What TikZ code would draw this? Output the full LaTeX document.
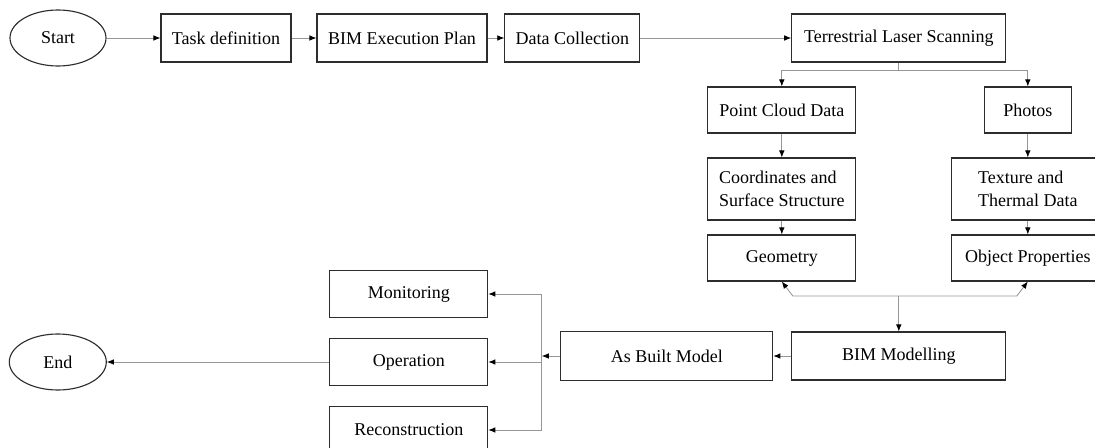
\documentclass[tikz,border=0pt]{standalone}
\usepackage{fontspec}
\setmainfont{Liberation Serif}
\usepackage{tikz}
\usetikzlibrary{arrows.meta,shapes,positioning,calc}
\usepackage{xcolor}
\definecolor{bimborder}{RGB}{45,45,45}
\definecolor{bimline}{RGB}{150,150,150}
\tikzstyle{arrow} = [line width=0.6pt, draw=bimline, -{Latex[length=5pt,width=4pt,color=black]}]
\tikzstyle{connector} = [line width=0.6pt, draw=bimline]
\tikzstyle{process} = [rectangle, minimum height=1.2cm, text centered, draw=bimborder, line width=0.8pt, font=\fontsize{12.8}{16}\selectfont]
\tikzstyle{terminal} = [ellipse, minimum width=2.4cm, minimum height=1.4cm, draw=bimborder, line width=0.8pt, font=\fontsize{12.8}{16}\selectfont]

\begin{document}
\begin{tikzpicture}
% Top row
\node (start) [terminal] {Start};
\useasboundingbox ([xshift=-1.45cm,yshift=0.95cm]start.center) rectangle ++(27.375,-11.175);
\node (task) [process, right of=start, node distance=4.2cm, minimum width=3.25cm] {Task definition};
\node (bep) [process, right of=task, node distance=4.4cm, minimum width=4.25cm] {BIM Execution Plan};
\node (data) [process, right of=bep, node distance=4.26cm, minimum width=3.375cm] {Data Collection};
\node (tls) [process, right of=data, node distance=8.16cm, minimum width=5.35cm] {Terrestrial Laser Scanning};

% Scanning outputs
\node (pcd) [process, below of=tls, node distance=1.8cm, xshift=-2.925cm, minimum width=3.7cm, minimum height=1.15cm] {Point Cloud Data};
\node (photos) [process, below of=tls, node distance=1.8cm, xshift=3.225cm, minimum width=2.175cm, minimum height=1.15cm] {Photos};
\node (coord) [process, below of=pcd, node distance=1.975cm, minimum width=3.7cm, minimum height=1.55cm, align=left] {Coordinates and\\Surface Structure};
\node (texture) [process, below of=photos, node distance=1.975cm, minimum width=3.8cm, minimum height=1.55cm, align=left] {Texture and\\Thermal Data};
\node (geom) [process, below of=coord, node distance=1.725cm, minimum width=3.7cm, minimum height=1.15cm] {Geometry};
\node (objprop) [process, below of=texture, node distance=1.725cm, minimum width=3.8cm, minimum height=1.15cm] {Object Properties};

% Modelling
\node (bimm) [process, below of=tls, node distance=7.95cm, minimum width=5.35cm] {BIM Modelling};
\node (asbuilt) [process, left of=bimm, node distance=5.8cm, minimum width=5.3cm, minimum height=1.225cm] {As Built Model};

% Uses of the model
\node (operation) [process, left of=asbuilt, node distance=6.45cm, yshift=-0.15cm, minimum width=3.95cm, minimum height=1.175cm] {Operation};
\node (monitoring) [process, above of=operation, node distance=1.7cm, minimum width=3.95cm, minimum height=1.175cm] {Monitoring};
\node (recon) [process, below of=operation, node distance=1.7cm, minimum width=3.95cm, minimum height=1.175cm] {Reconstruction};
\node (end) [terminal, left of=operation, node distance=8.775cm, minimum width=2.425cm] {End};

% Main flow
\draw [arrow] (start) -- (task);
\draw [arrow] (task) -- (bep);
\draw [arrow] (bep) -- (data);
\draw [arrow] (data) -- (tls);

% Split below scanning
\node (tsplit) [coordinate, below of=tls, node distance=0.8cm] {};
\draw [connector] (tls) -- (tsplit);
\draw [arrow] (tsplit) -| (pcd);
\draw [arrow] (tsplit) -| (photos);
\draw [arrow] (pcd) -- (coord);
\draw [arrow] (photos) -- (texture);
\draw [arrow] (coord) -- (geom);
\draw [arrow] (texture) -- (objprop);

% Join into modelling
\node (gsplit) [coordinate, above of=bimm, node distance=1.5cm] {};
\draw [arrow] (gsplit) -- (bimm);
\draw [arrow] (gsplit) -- ($(gsplit -| geom)+(0.275,0)$) -- (geom.south);
\draw [arrow] (gsplit) -- ($(gsplit -| objprop)+(-0.275,0)$) -- (objprop.south);

% Outputs
\draw [arrow] (bimm) -- (asbuilt);
\node (obus) [coordinate, left of=asbuilt, node distance=3.125cm] {};
\draw [arrow] (asbuilt) -- (obus);
\draw [connector] (obus |- monitoring) -- (obus |- recon);
\draw [arrow] (obus |- monitoring) -- (monitoring);
\draw [arrow] (obus |- operation) -- (operation);
\draw [arrow] (obus |- recon) -- (recon);
\draw [arrow] (operation) -- (end);
\end{tikzpicture}
\end{document}
